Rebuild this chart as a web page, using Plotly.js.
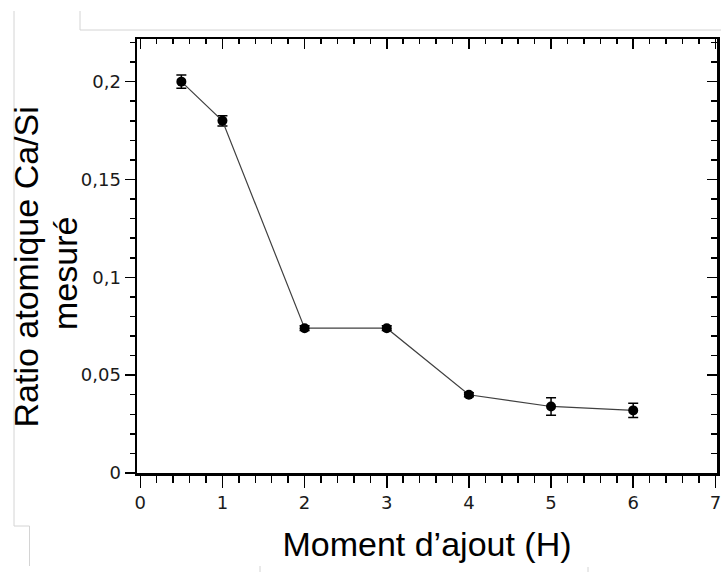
<!DOCTYPE html>
<html>
<head>
<meta charset="utf-8">
<script src="https://cdn.plot.ly/plotly-3.0.1.min.js"></script>
<style>html,body{margin:0;padding:0;background:#fff;}#chart{width:721px;height:572px;}</style>
</head>
<body>
<div id="chart"></div>
<script>
// Data
const moment = [0.5, 1, 2, 3, 4, 5, 6];
const ratioCaSi = [0.200, 0.180, 0.074, 0.074, 0.040, 0.034, 0.032];
const errCaSi = [0.0034, 0.0026, 0.0012, 0.0012, 0.0010, 0.0045, 0.0037];
const xTickVals = [0, 1, 2, 3, 4, 5, 6, 7];
const xTickText = ["0", "1", "2", "3", "4", "5", "6", "7"];
const yTickVals = [0, 0.05, 0.1, 0.15, 0.2];
const yTickText = ["0", "0,05", "0,1", "0,15", "0,2"];
const xTitle = "Moment d’ajout (H)";
const yTitleLines = ["Ratio atomique Ca/Si", "mesuré"];

const W = 721, H = 572;
const M = {l: 137, r: 4, t: 39, b: 99};
const PW = W - M.l - M.r, PH = H - M.t - M.b;
const px = v => (v - M.l) / PW;
const py = v => (H - M.b - v) / PH;
function seg(x0, y0, x1, y1) {
  return {type: 'line', xref: 'paper', yref: 'paper', x0: px(x0), y0: py(y0), x1: px(x1), y1: py(y1),
          line: {color: '#d4d4d4', width: 1}, layer: 'below'};
}

const xRange = [-0.04, 7.02];
const yRange = [0, 0.2218];
const tickFont = {family: 'DejaVu Sans, Verdana, sans-serif', size: 18, color: '#1a1a1a'};
const titleFont = {family: 'Liberation Sans, Arial, sans-serif', size: 34, color: '#000'};

const traces = [
  {
    x: moment, y: ratioCaSi, type: 'scatter', mode: 'lines+markers',
    line: {color: '#404040', width: 1.2},
    marker: {color: '#000', size: 10},
    error_y: {type: 'data', array: errCaSi, visible: true, color: '#000', thickness: 1.5, width: 5},
    showlegend: false, hoverinfo: 'x+y'
  },
  {
    x: moment, y: ratioCaSi, xaxis: 'x2', yaxis: 'y2', type: 'scatter', mode: 'markers',
    marker: {opacity: 0}, showlegend: false, hoverinfo: 'skip'
  }
];

const layout = {
  width: W, height: H,
  margin: M,
  paper_bgcolor: '#fff', plot_bgcolor: '#fff',
  showlegend: false,
  xaxis: {
    range: xRange, tickmode: 'array', tickvals: xTickVals, ticktext: xTickText,
    ticks: 'outside', ticklen: 12, tickwidth: 1.5, tickcolor: '#000',
    minor: {dtick: 0.2, tick0: 0, ticks: 'outside', ticklen: 7, tickwidth: 1.5, tickcolor: '#000', showgrid: false},
    showline: true, linewidth: 2.5, linecolor: '#000', mirror: true,
    showgrid: false, zeroline: false, tickfont: tickFont, ticklabeloverflow: 'allow',
    title: {text: xTitle, font: titleFont, standoff: 20},
    automargin: false
  },
  xaxis2: {
    overlaying: 'x', side: 'top', range: xRange, anchor: 'y',
    tickmode: 'array', tickvals: xTickVals,
    ticks: 'inside', ticklen: 10, tickwidth: 1.5, tickcolor: '#000',
    minor: {dtick: 0.2, tick0: 0, ticks: 'inside', ticklen: 5, tickwidth: 1.5, tickcolor: '#000', showgrid: false},
    showticklabels: false, showline: false, showgrid: false, zeroline: false
  },
  yaxis: {
    range: yRange, tickmode: 'array', tickvals: yTickVals, ticktext: yTickText,
    ticks: 'outside', ticklen: 10, tickwidth: 1.5, tickcolor: '#000',
    minor: {dtick: 0.01, tick0: 0, ticks: 'outside', ticklen: 5, tickwidth: 1.5, tickcolor: '#000', showgrid: false},
    showline: true, linewidth: 2.5, linecolor: '#000', mirror: true,
    showgrid: false, zeroline: false, tickfont: tickFont,
    automargin: false
  },
  yaxis2: {
    overlaying: 'y', side: 'right', range: yRange, anchor: 'x',
    tickmode: 'array', tickvals: yTickVals,
    ticks: 'inside', ticklen: 10, tickwidth: 1.5, tickcolor: '#000',
    minor: {dtick: 0.01, tick0: 0, ticks: 'inside', ticklen: 6, tickwidth: 1.5, tickcolor: '#000', showgrid: false},
    showticklabels: false, showline: false, showgrid: false, zeroline: false
  },
  annotations: [
    {
      text: yTitleLines[0], textangle: -90, xref: 'paper', yref: 'paper',
      x: px(25), y: py(267.5), xanchor: 'center', yanchor: 'middle',
      showarrow: false, font: titleFont
    },
    {
      text: yTitleLines[1], textangle: -90, xref: 'paper', yref: 'paper',
      x: px(65), y: py(274), xanchor: 'center', yanchor: 'middle',
      showarrow: false, font: titleFont
    }
  ],
  shapes: [
    seg(14, 11, 14, 526), seg(14, 526, 29.5, 526), seg(29.5, 526, 29.5, 566),
    seg(80, 11, 80, 30), seg(80, 30, 721, 30),
    seg(260, 566, 260, 572), seg(588, 567, 588, 572)
  ]
};

Plotly.newPlot('chart', traces, layout, {displayModeBar: false, staticPlot: true});
</script>
</body>
</html>
